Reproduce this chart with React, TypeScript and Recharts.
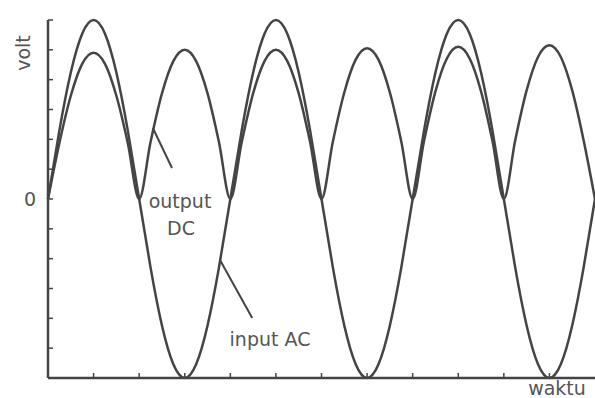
import { LineChart, Line, XAxis, YAxis, ReferenceLine } from "recharts";

// time in quarter periods, read along the x axis
const waktu = [
  0, 0.25, 0.5, 0.75, 1, 1.25, 1.5, 1.75, 2, 2.25, 2.5, 2.75, 3, 3.25, 3.5, 3.75,
  4, 4.25, 4.5, 4.75, 5, 5.25, 5.5, 5.75, 6, 6.25, 6.5, 6.75, 7, 7.25, 7.5, 7.75,
  8, 8.25, 8.5, 8.75, 9, 9.25, 9.5, 9.75, 10, 10.25, 10.5, 10.75, 11, 11.25, 11.5, 11.75, 12
];

const inputAC = [
  0, 2.3, 4.24, 5.54, 6, 5.54, 4.24, 2.3, 0, -2.3, -4.24, -5.54, -6, -5.54, -4.24, -2.3,
  0, 2.3, 4.24, 5.54, 6, 5.54, 4.24, 2.3, 0, -2.3, -4.24, -5.54, -6, -5.54, -4.24, -2.3,
  0, 2.3, 4.24, 5.54, 6, 5.54, 4.24, 2.3, 0, -2.3, -4.24, -5.54, -6, -5.54, -4.24, -2.3, 0
];

const outputDC = [
  0, 1.88, 3.46, 4.53, 4.9, 4.53, 3.46, 1.88, 0, 1.91, 3.54, 4.62, 5.0, 4.62, 3.54, 1.91,
  0, 1.91, 3.54, 4.62, 5.0, 4.62, 3.54, 1.91, 0, 1.93, 3.57, 4.67, 5.05, 4.67, 3.57, 1.93,
  0, 1.95, 3.61, 4.71, 5.1, 4.71, 3.61, 1.95, 0, 1.97, 3.64, 4.76, 5.15, 4.76, 3.64, 1.97, 0
];

const xTicks = [1, 2, 3, 4, 5, 6, 7, 8, 9, 10, 11];
const yTicks = [-6, -5, -4, -3, -2, -1, 0, 1, 2, 3, 4, 5, 6];

const data = waktu.map((t, i) => ({ t, ac: inputAC[i], dc: outputDC[i] }));

const INK = "#444";
const TEXT = "#555";
const FONT = "'DejaVu Sans', sans-serif";

function YTick(props: any) {
  const { x, y, payload } = props;
  return (
    <g>
      <line x1={x} y1={y} x2={x + 5} y2={y} stroke={INK} strokeWidth={1.5} />
      {payload.value === 0 && (
        <text x={x - 18} y={y + 7} fill={TEXT} fontSize={19} fontFamily={FONT} textAnchor="middle">
          0
        </text>
      )}
    </g>
  );
}

function XTick(props: any) {
  const { x, y } = props;
  return <line x1={x} y1={y} x2={x} y2={y - 5} stroke={INK} strokeWidth={1.5} />;
}

export default function App() {
  return (
    <div style={{ position: "absolute", left: 0, top: 0, width: 595, height: 398, background: "#fff" }}>
      <LineChart width={595} height={398} data={data} margin={{ top: 20, right: 0, bottom: 0, left: 0 }}>
        <XAxis
          dataKey="t"
          type="number"
          domain={[0, 12]}
          ticks={xTicks}
          tickSize={0}
          tickMargin={0}
          tick={<XTick />}
          height={20}
          axisLine={{ stroke: INK, strokeWidth: 2.5 }}
        />
        <YAxis
          type="number"
          domain={[-6, 6]}
          ticks={yTicks}
          tickSize={0}
          tickMargin={0}
          tick={<YTick />}
          width={48}
          axisLine={{ stroke: INK, strokeWidth: 2.5 }}
        />
        <Line type="natural" dataKey="ac" stroke={INK} strokeWidth={2.5} dot={false} isAnimationActive={false} />
        <Line type="monotone" dataKey="dc" stroke={INK} strokeWidth={2.5} dot={false} isAnimationActive={false} />
        <ReferenceLine segment={[{ x: 2.3, y: 2.38 }, { x: 2.72, y: 1.04 }]} stroke={INK} strokeWidth={2} ifOverflow="visible" />
        <ReferenceLine segment={[{ x: 3.77, y: -2.04 }, { x: 4.48, y: -3.99 }]} stroke={INK} strokeWidth={2} ifOverflow="visible" />
      </LineChart>
      <svg width={595} height={398} style={{ position: "absolute", left: 0, top: 0, pointerEvents: "none" }}>
        <g fill={TEXT} fontFamily={FONT} fontSize={19}>
          <text x={23} y={53} textAnchor="middle" dominantBaseline="central" transform="rotate(-90 23 53)">
            volt
          </text>
          <text x={180} y={201} textAnchor="middle" dominantBaseline="central">output</text>
          <text x={181} y={228} textAnchor="middle" dominantBaseline="central">DC</text>
          <text x={270} y={339} textAnchor="middle" dominantBaseline="central">input AC</text>
          <text x={557} y={388} textAnchor="middle" dominantBaseline="central">waktu</text>
        </g>
      </svg>
    </div>
  );
}
